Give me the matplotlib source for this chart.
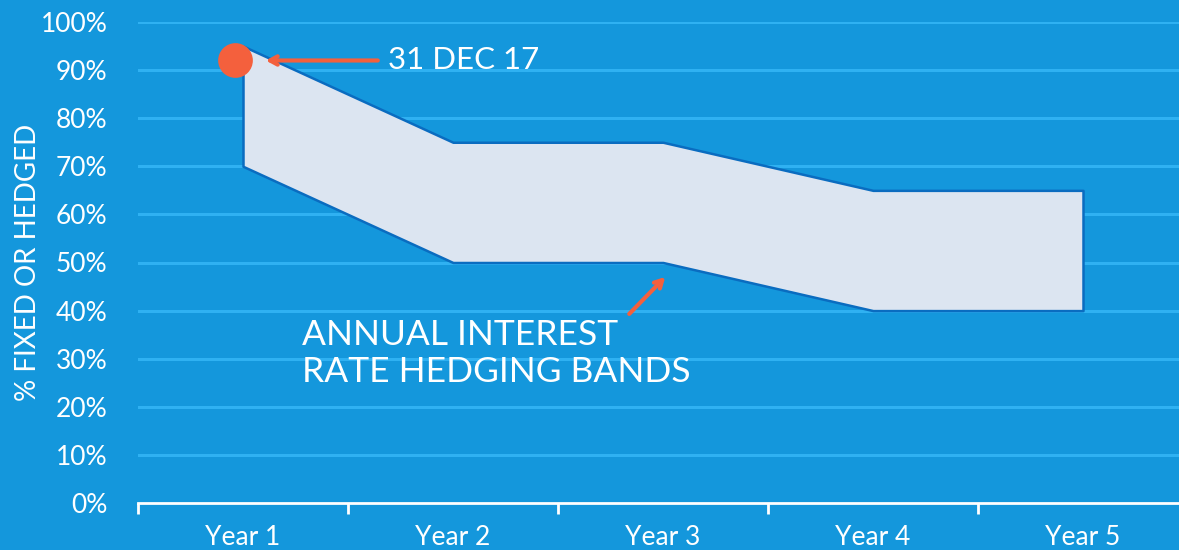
""" Annual interest rate hedging bands chart, blue house style. """

import matplotlib
matplotlib.use("Agg")
from matplotlib import pyplot as plt

years = ["Year 1", "Year 2", "Year 3", "Year 4", "Year 5"]
band_upper = [95, 75, 75, 65, 65]
band_lower = [70, 50, 50, 40, 40]
current_label = "31 DEC 17"
current_value = 92
y_ticks = list(range(0, 101, 10))

BG = "#1497dc"
GRID = "#2fb1f2"
BAND_FILL = "#dce5f1"
BAND_EDGE = "#0a6cc0"
ACCENT = "#f4603d"

plt.rcParams["font.family"] = ["Lato", "DejaVu Sans"]

fig = plt.figure(figsize=(11.79, 5.5), dpi=100, facecolor=BG)
ax = fig.add_axes([138 / 1179, 47 / 550, 1050 / 1179, 481 / 550])
ax.set_facecolor(BG)

x = list(range(len(years)))
ax.set_xlim(-0.5, len(years) - 0.5)
ax.set_ylim(0, 100)

# grid lines (0% is the axis itself)
for v in y_ticks[1:]:
    ax.axhline(v, color=GRID, lw=2.2, zorder=1)

ax.fill_between(x, band_lower, band_upper, facecolor=BAND_FILL,
                edgecolor=BAND_EDGE, linewidth=1.8, zorder=3)

# current position marker
ax.plot(-0.04, current_value, "o", ms=25, color=ACCENT, mec="none",
        zorder=5, clip_on=False)
ax.annotate("", xy=(0.095, current_value), xytext=(0.655, current_value),
            arrowprops=dict(arrowstyle="->,head_length=0.55,head_width=0.3",
                            color=ACCENT, lw=3), zorder=6)
ax.text(0.69, current_value, current_label, color="white", fontsize=22.5,
        va="center", ha="left")

ax.annotate("", xy=(2.02, 47.4), xytext=(1.83, 38.9),
            arrowprops=dict(arrowstyle="->,head_length=0.55,head_width=0.3",
                            color=ACCENT, lw=3), zorder=6)
ax.text(0.28, 31, "ANNUAL INTEREST\nRATE HEDGING BANDS", color="white",
        fontsize=25.5, va="center", ha="left", linespacing=1.2)

# axes styling
for side in ["top", "right", "left"]:
    ax.spines[side].set_visible(False)
ax.spines["bottom"].set_color("white")
ax.spines["bottom"].set_linewidth(2)

ax.set_yticks(y_ticks)
ax.set_yticklabels(["{}%".format(v) for v in y_ticks])
ax.tick_params(axis="y", length=0, pad=22, labelsize=19, labelcolor="white")

ax.set_xticks([i - 0.5 for i in range(len(years) + 1)])
ax.set_xticklabels([])
ax.set_xticks(x, minor=True)
ax.set_xticklabels(years, minor=True)
ax.tick_params(axis="x", which="major", direction="out", length=8, width=2,
               color="white")
ax.tick_params(axis="x", which="minor", length=0, pad=16, labelsize=19,
               labelcolor="white")

ax.set_ylabel("% FIXED OR HEDGED", color="white", fontsize=20, labelpad=0)

plt.savefig("out.png", dpi=100, facecolor=BG)
